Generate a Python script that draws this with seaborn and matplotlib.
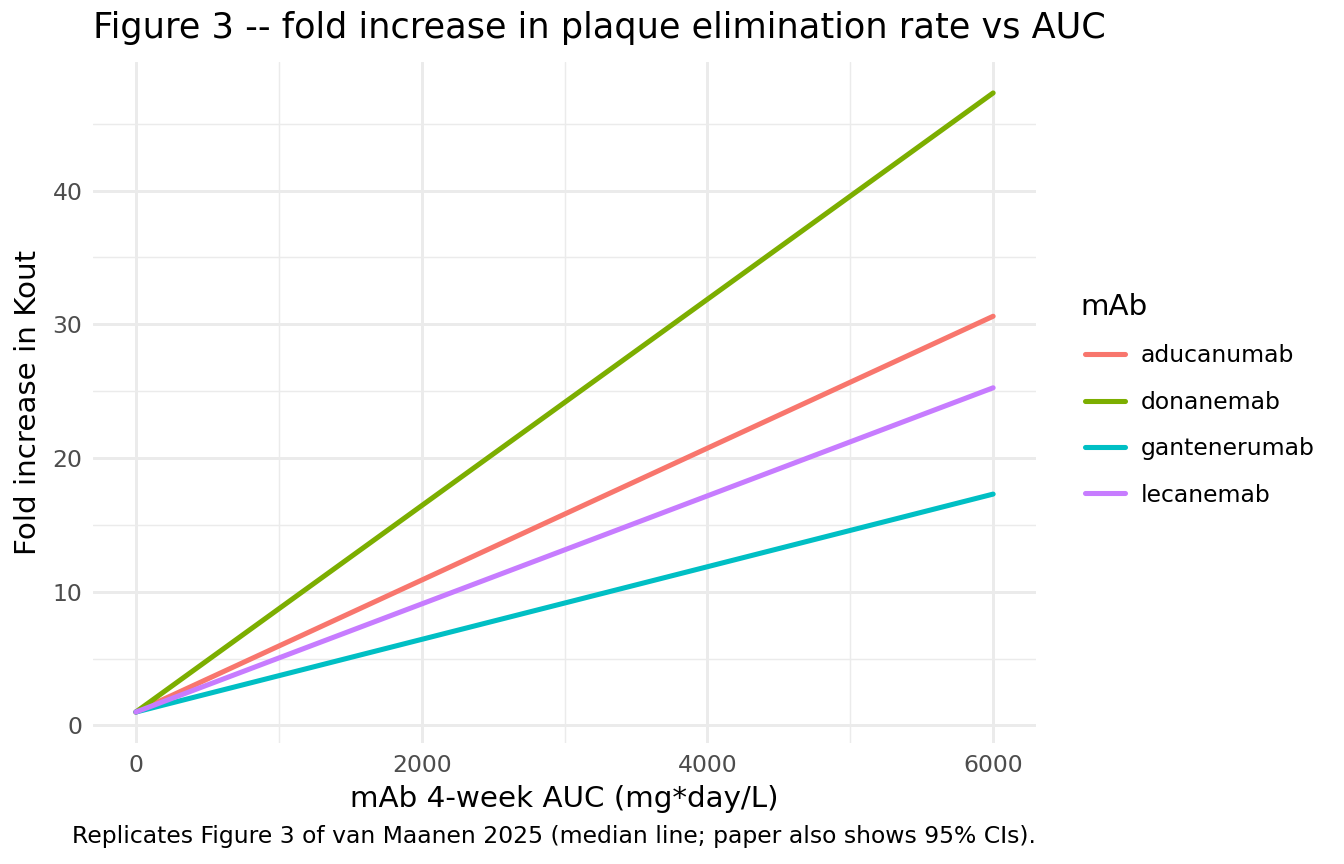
import matplotlib
matplotlib.use("Agg")
import matplotlib.pyplot as plt
import seaborn as sns
import pandas as pd
from matplotlib.ticker import MultipleLocator
from matplotlib.lines import Line2D

# data
mabs = ["aducanumab", "donanemab", "gantenerumab", "lecanemab"]
auc = [0, 6000]
fold_aducanumab = [1.0, 30.6]
fold_donanemab = [1.0, 47.3]
fold_gantenerumab = [1.0, 17.3]
fold_lecanemab = [1.0, 25.25]
colors = ["#F8766D", "#7CAE00", "#00BFC4", "#C77CFF"]

series = {"aducanumab": fold_aducanumab, "donanemab": fold_donanemab,
          "gantenerumab": fold_gantenerumab, "lecanemab": fold_lecanemab}
rows = []
for m in mabs:
    for a, f in zip(auc, series[m]):
        rows.append({"mAb": m, "auc": a, "fold": f})
df = pd.DataFrame(rows)

sns.set_theme(style="white")
plt.rcParams['font.family'] = ['DejaVu Sans']

W, H = 1344, 864
fig = plt.figure(figsize=(7, 4.5), dpi=192)
ax = fig.add_axes([93 / W, 1 - 743 / H, (1036 - 93) / W, (743 - 62) / H])

# grid
ax.set_xlim(-300, 6300)
ax.set_ylim(-1.315, 49.615)
ax.xaxis.set_major_locator(MultipleLocator(2000))
ax.xaxis.set_minor_locator(MultipleLocator(1000))
ax.yaxis.set_major_locator(MultipleLocator(10))
ax.yaxis.set_minor_locator(MultipleLocator(5))
ax.grid(which="major", color="#EBEBEB", linewidth=1.1)
ax.grid(which="minor", color="#EBEBEB", linewidth=0.55)
ax.set_axisbelow(True)
for s in ax.spines.values():
    s.set_visible(False)

sns.lineplot(data=df, x="auc", y="fold", hue="mAb", hue_order=mabs,
             palette=colors, linewidth=1.9, ax=ax, legend=False)

ax.tick_params(which="both", length=0, labelsize=8.8, labelcolor="#4D4D4D", pad=4)
ax.set_xlabel("mAb 4-week AUC (mg*day/L)", fontsize=11, color="black", labelpad=3)
ax.set_ylabel("Fold increase in Kout", fontsize=11, color="black", labelpad=4)

fig.text(93 / W, 1 - 28 / H, "Figure 3 -- fold increase in plaque elimination rate vs AUC",
         fontsize=13.2, ha="left", va="center", color="black")
fig.text(1036 / W, 1 - 836 / H,
         "Replicates Figure 3 of van Maanen 2025 (median line; paper also shows 95% CIs).",
         fontsize=8.8, ha="right", va="center", color="black")

# legend
fig.text(1080 / W, 1 - 307 / H, "mAb", fontsize=11, ha="left", va="center", color="black")
handles = [Line2D([0], [0], color=c, linewidth=1.9) for c in colors]
leg = fig.legend(handles, mabs, loc="center left",
                 bbox_to_anchor=(1085 / W, 1 - 425.5 / H), frameon=False,
                 fontsize=8.8, labelcolor="black", handlelength=1.7,
                 handletextpad=0.68, labelspacing=1.0, borderaxespad=0,
                 borderpad=0)

fig.savefig("out.png", dpi=192)
